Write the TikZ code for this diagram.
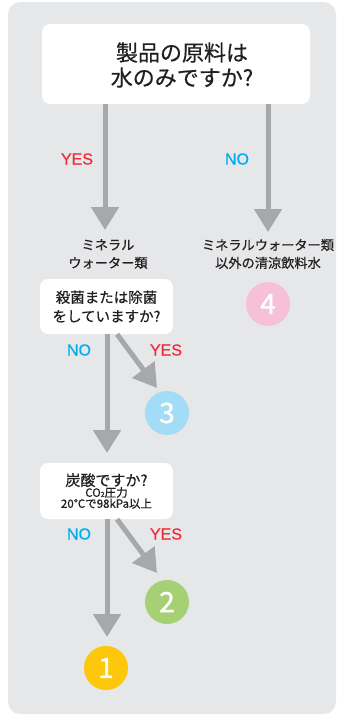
\documentclass[tikz,border=0pt]{standalone}
\usepackage{fontspec}
\setmainfont{Noto Sans CJK JP}[FakeBold=0.5]
\newfontfamily\latinfont{Liberation Sans}[FakeBold=0.3]
\newfontfamily\numfont{Noto Sans CJK JP}[FakeBold=1.2]
\usetikzlibrary{arrows.meta,calc}
\definecolor{bggray}{HTML}{E6E7E8}
\definecolor{arrgray}{HTML}{A7A8AB}
\definecolor{yesred}{HTML}{EE2A3A}
\definecolor{nocyan}{HTML}{00AEEF}
\definecolor{cyellow}{HTML}{FDC70C}
\definecolor{cgreen}{HTML}{A5D174}
\definecolor{cblue}{HTML}{A3DCF6}
\definecolor{cpink}{HTML}{F5C0D8}
\definecolor{txt}{HTML}{231F20}
\tikzset{
  qbox/.style={draw=none,fill=white,rounded corners=8pt,inner sep=0pt},
  arr/.style={draw=arrgray,line width=5pt,-{Triangle[width=27pt,length=23pt]}},
  yeslbl/.style={text=yesred,font=\latinfont\fontsize{16}{18}\selectfont,inner sep=0pt},
  nolbl/.style={text=nocyan,font=\latinfont\fontsize{16}{18}\selectfont,inner sep=0pt},
  cat/.style={font=\fontsize{13.2}{18}\selectfont,align=center,inner sep=0pt,text=txt},
  numc/.style={circle,minimum size=44pt,inner sep=0pt,text=white,font=\numfont\fontsize{28}{28}\selectfont},
}
\begin{document}
\begin{tikzpicture}[x=1pt,y=-1pt]
\path[use as bounding box] (0,0) rectangle (337,715);
\fill[bggray,rounded corners=12pt] (8,2) rectangle (336,714);
% top question
\node[qbox,minimum width=268pt,minimum height=80pt] (top) at (176,64) {};
\node[align=center,font=\fontsize{22}{25}\selectfont,inner sep=0pt,text=txt] (toptxt) at (182,65) {製品の原料は\\水のみですか?};
% categories
\node[cat] (mw) at (108,254) {ミネラル\\ウォーター類};
\node[cat] (other) at (268,254) {ミネラルウォーター類\\以外の清涼飲料水};
\draw[arr] (top.south -| 105,0) -- (105,230);
\draw[arr] (top.south -| other.north) -- (268,232);
\node[yeslbl] (y0) at (77,159) {YES};
\node[nolbl] (n0) at (237,159) {NO};
% circle 4
\node[numc,fill=cpink] (c4) at (268,304) {4};
% q2
\node[qbox,minimum width=133pt,minimum height=55pt,align=center,font=\fontsize{14.5}{19}\selectfont,text=txt] (q2) at (106.5,306.5) {殺菌または除菌\\をしていますか?};
\node[numc,fill=cblue] (c3) at (167,413) {3};
\node[nolbl] (n1) at (79,350) {NO};
\node[yeslbl] (y1) at (166,350) {YES};
% q3
\node[qbox,minimum width=133pt,minimum height=56pt] (q3) at (106.5,491) {};
\node[align=center,inner sep=0pt,text=txt] (q3txt) at (106.5,491) {{\fontsize{15}{17}\selectfont 炭酸ですか?}\\[-1pt]{\fontsize{11.5}{13}\selectfont CO\raisebox{0pt}{\fontsize{7}{7}\selectfont 2}圧力}\\[-1pt]{\fontsize{11.5}{13}\selectfont 20℃で98kPa以上}};
\draw[arr] (q2.south -| 107,0) -- (107,453);
\draw[arr] (q2.south -| 117,0) -- ($(c3)+(-10,-25)$);
\node[numc,fill=cgreen] (c2) at (167,602) {2};
\node[numc,fill=cyellow] (c1) at (106,668) {1};
\node[nolbl] (n2) at (79,534) {NO};
\node[yeslbl] (y2) at (166,534) {YES};
\draw[arr] (q3.south -| 107,0) -- (107,637);
\draw[arr] (q3.south -| 117,0) -- ($(c2)+(-10,-29)$);
\end{tikzpicture}
\end{document}
